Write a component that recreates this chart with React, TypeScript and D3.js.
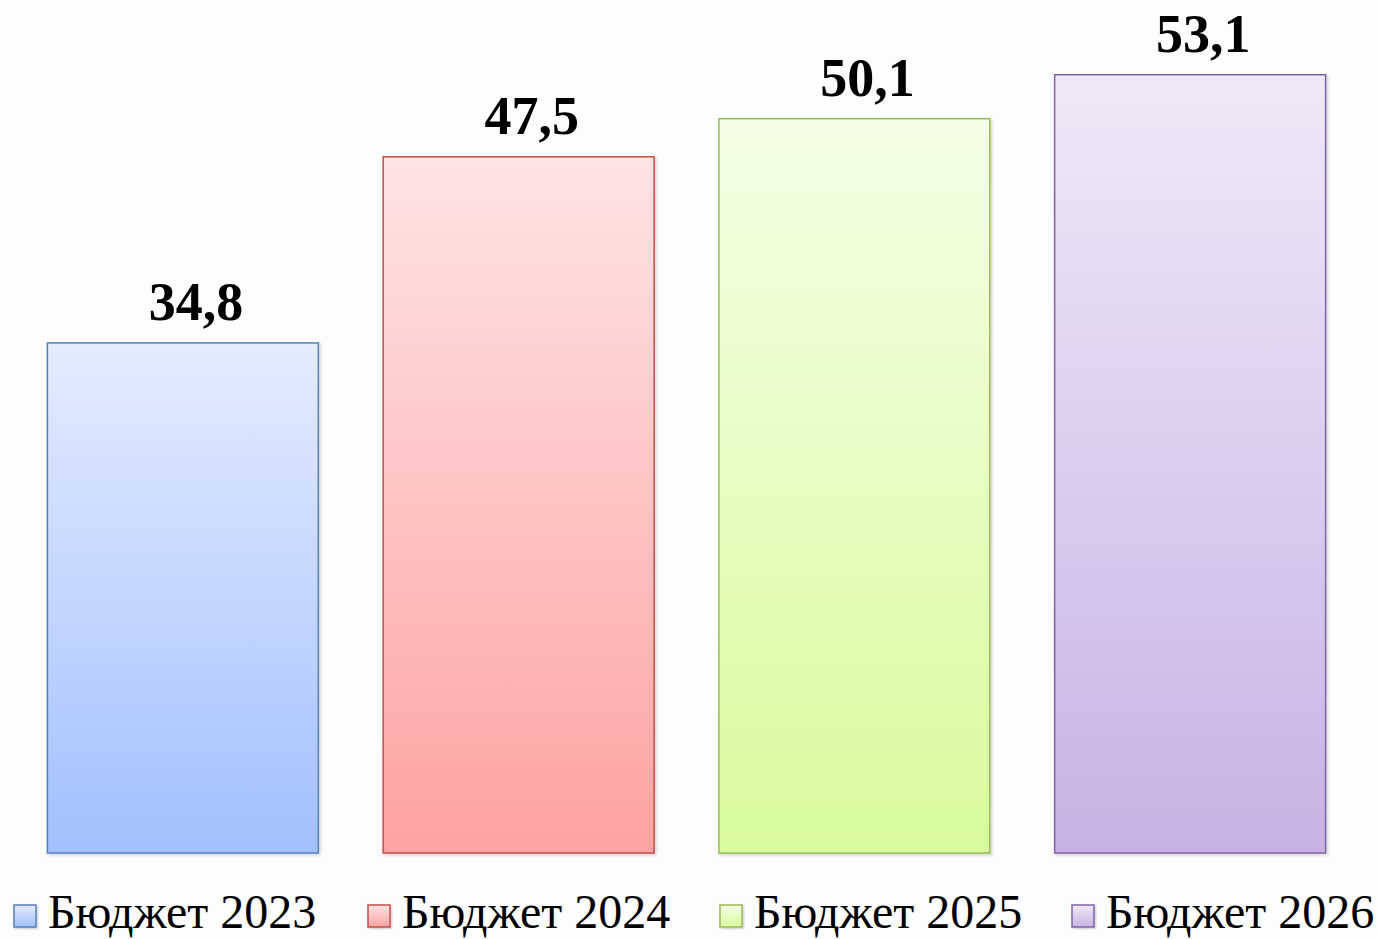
import React from 'react';
import * as d3 from 'd3';

// Budget totals by year
const categories = ['Бюджет 2023', 'Бюджет 2024', 'Бюджет 2025', 'Бюджет 2026'];
const values = [34.8, 47.5, 50.1, 53.1];
const valueLabels = ['34,8', '47,5', '50,1', '53,1'];

const fillTop = ['#e4ecff', '#ffe4e4', '#f5ffe6', '#efe9f8'];
const fillBottom = ['#a2c0fd', '#fea2a2', '#d8fb9c', '#c8b2e4'];
const strokes = ['#5580be', '#c0504d', '#9bbb59', '#8064a2'];

const W = 1379;
const H = 939;

export default function App() {
  const x = d3.scaleBand<string>()
    .domain(categories)
    .range([15, 1358])
    .paddingInner(0.193)
    .paddingOuter(0.0965);

  const y = d3.scaleLinear().domain([0, 58.2]).range([853, 0]);

  const legendX = [14, 368, 720, 1072];

  return (
    <svg
      width={W}
      height={H}
      style={{ position: 'absolute', left: 0, top: 0, background: '#fdfdfd' }}
      fontFamily="'Liberation Serif', 'Times New Roman', serif"
    >
      <defs>
        {categories.map((c, i) => (
          <linearGradient key={c} id={`g${i}`} x1="0" y1="0" x2="0" y2="1">
            <stop offset="0%" stopColor={fillTop[i]} />
            <stop offset="100%" stopColor={fillBottom[i]} />
          </linearGradient>
        ))}
        <filter id="shadow" x="-5%" y="-5%" width="115%" height="115%">
          <feDropShadow dx="1.5" dy="1.5" stdDeviation="1.5" floodColor="#000" floodOpacity="0.18" />
        </filter>
      </defs>

      {categories.map((c, i) => {
        const bx = x(c)!;
        const by = y(values[i]);
        return (
          <g key={c}>
            <rect
              x={bx}
              y={by}
              width={x.bandwidth()}
              height={y(0) - by}
              fill={`url(#g${i})`}
              stroke={strokes[i]}
              strokeWidth={1.5}
              filter="url(#shadow)"
            />
            <text
              x={bx + x.bandwidth() / 2 + 13}
              y={by - 23}
              textAnchor="middle"
              fontSize={54}
              fontWeight="bold"
              fill="#000"
            >
              {valueLabels[i]}
            </text>
          </g>
        );
      })}

      {categories.map((c, i) => (
        <g key={`lg${c}`}>
          <rect
            x={legendX[i]}
            y={905}
            width={22}
            height={22}
            fill={`url(#g${i})`}
            stroke={strokes[i]}
            strokeWidth={1.5}
            filter="url(#shadow)"
          />
          <text x={legendX[i] + 34} y={928} fontSize={48} fill="#000">
            {c}
          </text>
        </g>
      ))}
    </svg>
  );
}
